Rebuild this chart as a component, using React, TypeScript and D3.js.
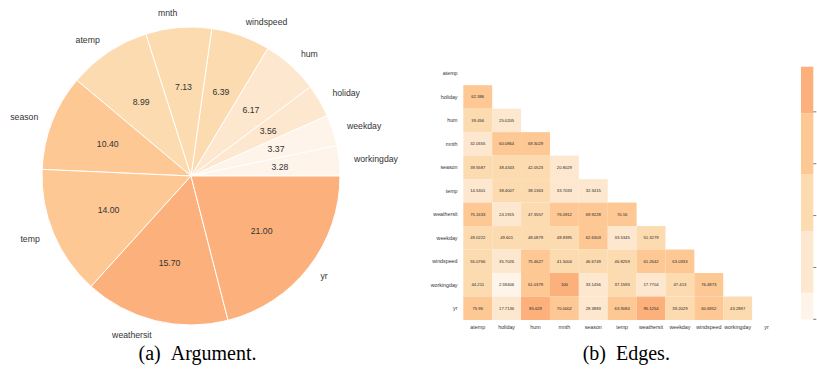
import React from "react";
import * as d3 from "d3";

// Pie: share of each feature (counter-clockwise from 3 o'clock)
const pieLabels = ["workingday", "weekday", "holiday", "hum", "windspeed", "mnth", "atemp", "season", "temp", "weathersit", "yr"];
const pieValues = [3.28, 3.37, 3.56, 6.17, 6.39, 7.13, 8.99, 10.4, 14.0, 15.7, 21.0];

// Heatmap: lower-triangle edge weights
const features = ["atemp", "holiday", "hum", "mnth", "season", "temp", "weathersit", "weekday", "windspeed", "workingday", "yr"];
const edgeRows: number[][] = [
  [],
  [62.386],
  [39.456, 25.0205],
  [32.0555, 60.0864, 69.3029],
  [39.5587, 38.4343, 42.0523, 20.8029],
  [14.5301, 38.4007, 38.1363, 33.7033, 32.3415],
  [75.1633, 24.1915, 47.3557, 76.0912, 69.9228, 70.16],
  [49.0222, 49.601, 48.0879, 48.8395, 62.6303, 33.5345, 51.3279],
  [55.0766, 35.7026, 75.4627, 41.5004, 46.6749, 46.8259, 61.2642, 63.0333],
  [44.211, 2.59406, 61.0379, 100, 33.1456, 37.1593, 17.7704, 47.413, 76.4873],
  [75.96, 17.7136, 85.629, 70.0002, 28.3883, 63.9084, 95.1254, 39.2029, 60.6852, 43.2897],
];

const palette = ["#fef4e9", "#fde8cf", "#fddbb0", "#fdc894", "#fcb07b"];
const pieBreaks = [3.4, 6.3, 10, 15];
const edgeBreaks = [12.85, 36.6, 58.6, 82.0];
const edgeMin = 2.59406;
const edgeMax = 100;
const cbarTicks = [2.59406, 22.59406, 42.59406, 62.59406, 82.59406];

const sans = "'Liberation Sans', Arial, sans-serif";
const serif = "'Liberation Serif', 'Times New Roman', serif";

function PieChart() {
  const cx = 191;
  const cy = 176;
  const R = 149;
  const color = d3.scaleThreshold<number, string>().domain(pieBreaks).range(palette);
  const pie = d3
    .pie<number>()
    .sort(null)
    .startAngle(Math.PI / 2)
    .endAngle(Math.PI / 2 - 2 * Math.PI);
  const arcs = pie(pieValues);
  const arc = d3.arc<d3.PieArcDatum<number>>().innerRadius(0).outerRadius(R);
  return (
    <g transform={`translate(${cx},${cy})`}>
      {arcs.map((a, i) => (
        <path key={i} d={arc(a) || ""} fill={color(a.data)} stroke="#fff" strokeWidth={1} />
      ))}
      {arcs.map((a, i) => {
        const mid = (a.startAngle + a.endAngle) / 2;
        const sx = Math.sin(mid);
        const sy = -Math.cos(mid);
        const lx = sx * R * 1.1;
        const ly = sy * R * 1.1;
        return (
          <g key={i}>
            <text
              x={sx * R * 0.6}
              y={sy * R * 0.6}
              textAnchor="middle"
              dominantBaseline="central"
              fontFamily={sans}
              fontSize={8.7}
              fill="#333"
            >
              {a.data.toFixed(2)}
            </text>
            <text
              x={lx}
              y={ly}
              textAnchor={lx > 0 ? "start" : "end"}
              dominantBaseline="central"
              fontFamily={sans}
              fontSize={8.7}
              fill="#333"
            >
              {pieLabels[i]}
            </text>
          </g>
        );
      })}
    </g>
  );
}

function Heatmap() {
  const x = d3.scaleBand<string>().domain(features).range([463.3, 781]);
  const y = d3.scaleBand<string>().domain(features).range([61.7, 320]);
  const color = d3.scaleThreshold<number, string>().domain(edgeBreaks).range(palette);
  const cb = d3.scaleLinear().domain([edgeMin, edgeMax]).range([319.3, 66.7]);
  const cbX = 801;
  const cbW = 12.3;
  const bounds = [edgeMin, ...edgeBreaks, edgeMax];
  return (
    <g>
      {edgeRows.map((row, i) =>
        row.map((v, j) => (
          <g key={`${i}-${j}`}>
            <rect
              x={x(features[j])}
              y={y(features[i])}
              width={x.bandwidth()}
              height={y.bandwidth()}
              fill={color(v)}
            />
            <text
              x={(x(features[j]) || 0) + x.bandwidth() / 2}
              y={(y(features[i]) || 0) + y.bandwidth() / 2}
              textAnchor="middle"
              dominantBaseline="central"
              fontFamily={sans}
              fontSize={4.2}
              fill="#262626"
            >
              {String(v)}
            </text>
          </g>
        ))
      )}
      {features.map((f) => (
        <text
          key={`r-${f}`}
          x={457.5}
          y={(y(f) || 0) + y.bandwidth() / 2}
          textAnchor="end"
          dominantBaseline="central"
          fontFamily={sans}
          fontSize={5.3}
          fill="#333"
        >
          {f}
        </text>
      ))}
      {features.map((f) => (
        <text
          key={`c-${f}`}
          x={(x(f) || 0) + x.bandwidth() / 2}
          y={326.7}
          textAnchor="middle"
          dominantBaseline="central"
          fontFamily={sans}
          fontSize={5.3}
          fill="#333"
        >
          {f}
        </text>
      ))}
      {/* colour bar */}
      {palette.map((c, k) => (
        <rect
          key={`cb-${k}`}
          x={cbX}
          y={cb(bounds[k + 1])}
          width={cbW}
          height={cb(bounds[k]) - cb(bounds[k + 1])}
          fill={c}
        />
      ))}
      {cbarTicks.map((t, k) => (
        <line
          key={`t-${k}`}
          x1={cbX + cbW}
          x2={cbX + cbW + 3}
          y1={cb(t)}
          y2={cb(t)}
          stroke="#555"
          strokeWidth={0.8}
        />
      ))}
    </g>
  );
}

export default function App() {
  return (
    <div style={{ position: "absolute", left: 0, top: 0 }}>
      <svg width={817} height={372} style={{ display: "block", background: "#fff" }}>
        <PieChart />
        <Heatmap />
        <text x={197.5} y={360} textAnchor="middle" fontFamily={serif} fontSize={20} fill="#000">
          (a)&#8194;Argument.
        </text>
        <text x={626.3} y={360} textAnchor="middle" fontFamily={serif} fontSize={20} fill="#000">
          (b)&#8194;Edges.
        </text>
      </svg>
    </div>
  );
}
